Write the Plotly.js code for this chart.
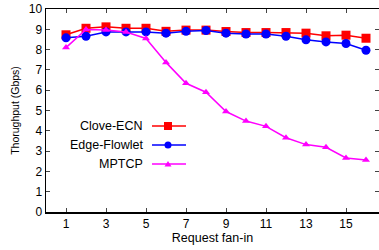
<!DOCTYPE html>
<html><head><meta charset="utf-8">
<script src="https://cdn.plot.ly/plotly-3.0.1.min.js"></script>
<style>html,body{margin:0;padding:0;background:#fff;}#c{width:379px;height:250px;}</style>
</head><body><div id="c"></div>
<script>
var fanIn = [1,2,3,4,5,6,7,8,9,10,11,12,13,14,15,16];
var cloveECN = [8.73,9.05,9.12,9.05,9.05,8.9,8.96,8.96,8.89,8.84,8.84,8.84,8.81,8.68,8.71,8.56];
var edgeFlowlet = [8.58,8.66,8.87,8.87,8.87,8.81,8.9,8.94,8.81,8.77,8.77,8.66,8.48,8.38,8.30,7.97];
var mptcp = [8.1,8.99,8.97,8.87,8.55,7.37,6.34,5.9,4.95,4.48,4.22,3.66,3.32,3.19,2.66,2.56];
var seriesNames = ['Clove-ECN','Edge-Flowlet','MPTCP'];
var xTicks = [1,3,5,7,9,11,13,15];
var yTicks = [0,1,2,3,4,5,6,7,8,9,10];

var colors = ['#ff0000','#0000ff','#ff00ff'];
var symbols = ['square','circle','triangle-up'];
var sizes = [9,9,7];
var data = [cloveECN, edgeFlowlet, mptcp].map(function(v,i){
  return {x: fanIn, y: v, type:'scatter', mode:'lines+markers', name: seriesNames[i],
    line:{color:colors[i], width:1.5}, marker:{color:colors[i], symbol:symbols[i], size:sizes[i]}, showlegend:false};
});

var L = 46, W = 333, B = 212, H = 203;
function px(x){return (x-L)/W;}
function py(y){return (B-y)/H;}
var rows = [126,145,164];
var fam = 'Liberation Sans, Arial, sans-serif';
var annotations = [], shapes = [];
rows.forEach(function(r,i){
  annotations.push({xref:'paper', yref:'paper', x:px(144.5), y:py(r), xanchor:'right', yanchor:'middle',
    text: seriesNames[i], showarrow:false, font:{family:fam, size:12.5, color:'#000'}});
  shapes.push({type:'line', xref:'paper', yref:'paper', x0:px(152), x1:px(186), y0:py(r), y1:py(r), line:{color:colors[i], width:1.5}});
  var cx = px(168), cy = py(r);
  if(i===0){
    shapes.push({type:'rect', xref:'paper', yref:'paper', xsizemode:'pixel', ysizemode:'pixel', xanchor:cx, yanchor:cy,
      x0:-4, x1:4, y0:-4, y1:4, fillcolor:colors[i], line:{width:0}});
  } else if(i===1){
    shapes.push({type:'circle', xref:'paper', yref:'paper', xsizemode:'pixel', ysizemode:'pixel', xanchor:cx, yanchor:cy,
      x0:-3.5, x1:3.5, y0:-3.5, y1:3.5, fillcolor:colors[i], line:{width:0}});
  } else {
    shapes.push({type:'path', xref:'paper', yref:'paper', xsizemode:'pixel', ysizemode:'pixel', xanchor:cx, yanchor:cy,
      path:'M -3.5 -2.5 L 3.5 -2.5 L 0 3 Z', fillcolor:colors[i], line:{width:0}});
  }
});

var layout = {
  width:379, height:250,
  margin:{l:46, r:0, t:9, b:38, pad:0},
  paper_bgcolor:'#fff', plot_bgcolor:'#fff',
  font: {family:fam, size:12, color:'#000'},
  showlegend:false,
  xaxis:{range:[0,16.65], tickvals:xTicks, ticktext:xTicks.map(String), ticks:'inside', ticklen:4, tickwidth:1, tickcolor:'#444',
    showline:true, linecolor:'#000', linewidth:1.5, mirror:'ticks', showgrid:false, zeroline:false,
    tickfont:{family:fam, size:12, color:'#000'},
    title:{text:'Request fan-in', font:{family:fam, size:12.5, color:'#000'}, standoff:3}},
  yaxis:{range:[0,10], tickvals:yTicks, ticktext:yTicks.map(String), ticks:'inside', ticklen:4, tickwidth:1, tickcolor:'#444',
    showline:true, linecolor:'#000', linewidth:1.5, mirror:'ticks', showgrid:false, zeroline:false,
    tickfont:{family:fam, size:12, color:'#000'},
    title:{text:'Thorughput (Gbps)', font:{family:fam, size:10.5, color:'#000'}, standoff:7}},
  annotations: annotations,
  shapes: shapes
};
Plotly.newPlot('c', data, layout, {displayModeBar:false, staticPlot:true});
</script></body></html>
